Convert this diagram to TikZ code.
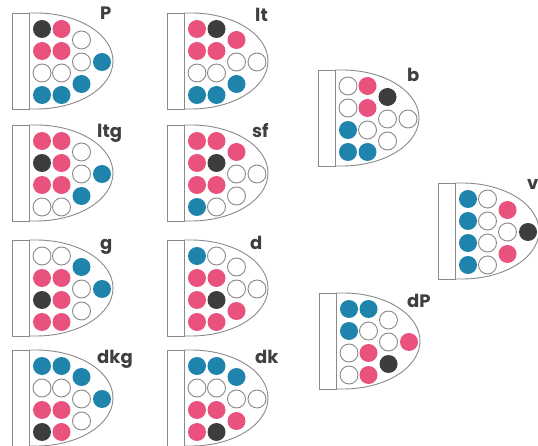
\documentclass[tikz,border=0pt]{standalone}
\usepackage{fontspec}
\setmainfont{Poppins}
\definecolor{pinkc}{HTML}{E9527C}
\definecolor{bluec}{HTML}{1E84AC}
\definecolor{darkc}{HTML}{3D3D3D}
\definecolor{linec}{HTML}{8A8A8A}
\definecolor{textc}{HTML}{3F3F3F}
\tikzset{
  ball/.style={circle, inner sep=0pt, minimum size=18pt},
  ballK/.style={ball, fill=darkc},
  ballR/.style={ball, fill=pinkc},
  ballB/.style={ball, fill=bluec},
  ballW/.style={ball, fill=white, draw=linec, line width=0.9pt},
  outline/.style={draw=linec, line width=0.9pt},
  lbl/.style={anchor=base west, inner sep=0pt, text=textc, font=\bfseries\fontsize{18}{18}\selectfont},
}
\def\posx{{30,30,30,30,49.5,49.5,49.5,49.5,69.5,69.5,69.5,90}}
\def\posy{{16,38,60,82,16,38,60,82,27,49,71,49}}
\newcommand\podshape[4]{%
  \begin{scope}[shift={(#2,-#3)}]
    \draw[outline] (0,0) rectangle (17,-96);
    \draw[outline] (17,0) -- (24,0) arc[start angle=90,end angle=-90,x radius=77pt,y radius=48pt] -- (17,-96);
  \end{scope}
  \foreach \c [count=\i from 0] in {#4} {
    \pgfmathsetmacro\xx{\posx[\i]}
    \pgfmathsetmacro\yy{\posy[\i]}
    \node[ball\c] (#1-\i) at ({#2+\xx},{-#3-\yy}) {};
  }
}
\begin{document}
\begin{tikzpicture}[x=1pt,y=1pt]
\fill[white] (0,0) rectangle (538,-446);
\useasboundingbox (0,0) rectangle (538,-446);
\podshape{P}{12}{13}{K,R,W,B,R,R,W,B,W,W,B,B}
\podshape{lt}{167}{13}{R,R,W,B,K,R,W,B,R,W,B,W}
\podshape{ltg}{12}{125}{R,K,R,W,R,R,R,W,W,W,B,B}
\podshape{sf}{167}{125}{R,R,R,B,R,K,R,W,R,W,W,W}
\podshape{g}{12}{240}{W,R,K,R,W,R,R,R,B,W,W,B}
\podshape{d}{167}{240}{B,R,R,R,W,R,K,R,W,W,R,W}
\podshape{dkg}{12}{350}{B,W,R,K,B,W,R,R,B,W,W,B}
\podshape{dk}{167}{350}{B,W,R,R,B,W,R,K,B,W,R,W}
\podshape{b}{318}{70}{W,W,B,B,R,R,W,B,K,W,W,W}
\podshape{v}{438}{183}{B,B,B,B,W,W,W,W,R,W,R,K}
\podshape{dP}{319}{293}{B,B,W,W,B,W,R,R,W,W,K,R}
\node[lbl] (P-label) at (100,-20) {P};
\node[lbl] (lt-label) at (255,-22) {lt};
\node[lbl] (ltg-label) at (97,-138) {ltg};
\node[lbl] (sf-label) at (252,-138) {sf};
\node[lbl] (g-label) at (100,-250) {g};
\node[lbl] (d-label) at (250,-250) {d};
\node[lbl] (dkg-label) at (97,-363) {dkg};
\node[lbl] (dk-label) at (255,-363) {dk};
\node[lbl] (b-label) at (407,-82) {b};
\node[lbl] (v-label) at (527,-190) {v};
\node[lbl] (dP-label) at (407,-308) {dP};
\end{tikzpicture}
\end{document}
